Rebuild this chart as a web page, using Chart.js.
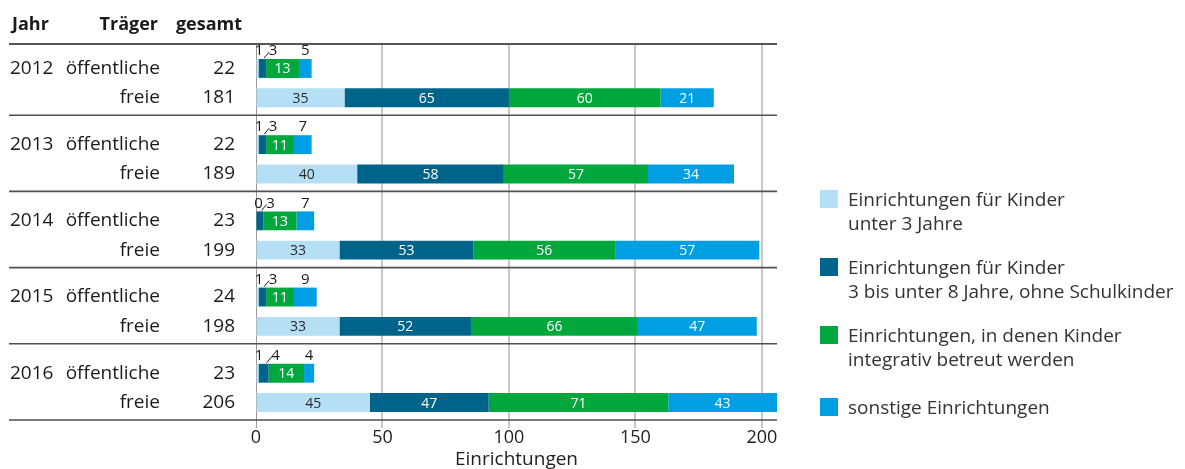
<!DOCTYPE html>
<html><head><meta charset="utf-8">
<script src="https://cdn.jsdelivr.net/npm/chart.js@4.4.1/dist/chart.umd.min.js"></script>
<style>
html,body{margin:0;padding:0;background:#fff;}
#wrap{position:relative;width:1185px;height:469px;overflow:hidden;}
#c{position:absolute;left:0;top:0;}
#legend{position:absolute;left:820px;top:0;font-family:'Open Sans',sans-serif;font-size:19px;color:#333;}
.item{position:absolute;left:0;white-space:nowrap;}
.sw{position:absolute;left:0;top:0;width:18px;height:18px;}
.txt{position:absolute;left:28px;top:-3.5px;line-height:24px;}
</style>
</head><body>
<div id="wrap"><canvas id="c" width="1185" height="469"></canvas><div id="legend"></div></div>
<script>
const years = ['2012','2013','2014','2015','2016'];
const traeger = ['öffentliche','freie'];
const header = ['Jahr','Träger','gesamt'];
const seriesLabels = [
  'Einrichtungen für Kinder\nunter 3 Jahre',
  'Einrichtungen für Kinder\n3 bis unter 8 Jahre, ohne Schulkinder',
  'Einrichtungen, in denen Kinder\nintegrativ betreut werden',
  'sonstige Einrichtungen'
];
const oeffU3 = [1, 1, 0, 1, 1];
const oeffU8 = [3, 3, 3, 3, 4];
const oeffInteg = [13, 11, 13, 11, 14];
const oeffSonst = [5, 7, 7, 9, 4];
const freiU3 = [35, 40, 33, 33, 45];
const freiU8 = [65, 58, 53, 52, 47];
const freiInteg = [60, 57, 56, 66, 71];
const freiSonst = [21, 34, 57, 47, 43];
const oeffTotal = [22, 22, 23, 24, 23];
const freiTotal = [181, 189, 199, 198, 206];
const xTicks = [0, 50, 100, 150, 200];
const axisTitle = 'Einrichtungen';

const colors = ['#b5dff5', '#00648a', '#00a73d', '#009fe3'];
const FONT = "'Open Sans', sans-serif";
const oeffSeries = [oeffU3, oeffU8, oeffInteg, oeffSonst];
const freiSeries = [freiU3, freiU8, freiInteg, freiSonst];

const datasets = [];
oeffSeries.forEach((d, k) => datasets.push({
  label: seriesLabels[k], data: d, backgroundColor: colors[k], stack: 'oeff',
  categoryPercentage: 0.77, barPercentage: 0.644, borderWidth: 0
}));
freiSeries.forEach((d, k) => datasets.push({
  label: seriesLabels[k], data: d, backgroundColor: colors[k], stack: 'frei',
  categoryPercentage: 0.77, barPercentage: 0.644, borderWidth: 0
}));

const tablePlugin = {
  id: 'tablePlugin',
  afterDatasetsDraw(chart) {
    const ctx = chart.ctx, ca = chart.chartArea;
    const els = i => chart.getDatasetMeta(i).data;
    ctx.save();
    ctx.textAlign = 'center';
    ctx.textBaseline = 'middle';
    // labels in freie bars
    ctx.font = '14px ' + FONT;
    freiSeries.forEach((d, k) => {
      els(4 + k).forEach((el, i) => {
        ctx.fillStyle = k === 0 ? '#2a2a2a' : '#ffffff';
        ctx.fillText(String(d[i]), (el.x + el.base) / 2, el.y + 1);
      });
    });
    // green label inside öffentliche bar
    els(2).forEach((el, i) => {
      ctx.fillStyle = '#ffffff';
      ctx.fillText(String(oeffInteg[i]), (el.x + el.base) / 2, el.y + 1);
    });
    // annotations above öffentliche bars
    ctx.font = '15px ' + FONT;
    ctx.fillStyle = '#1a1a1a';
    ctx.strokeStyle = '#1a1a1a';
    ctx.lineWidth = 1;
    years.forEach((y, i) => {
      const l = els(0)[i], dk = els(1)[i], b = els(3)[i];
      const top = dk.y - dk.height / 2;
      const ty = top - 8;
      ctx.fillText(String(oeffU3[i]), l.base + 2.5, ty);
      ctx.fillText(String(oeffU8[i]), dk.x + 7, ty);
      ctx.beginPath();
      ctx.moveTo(dk.x - 2, top - 1);
      ctx.lineTo(dk.x + 3, top - 7);
      ctx.stroke();
      ctx.fillText(String(oeffSonst[i]), (b.x + b.base) / 2, ty);
    });
    // horizontal rules
    ctx.strokeStyle = '#1e1e1e';
    ctx.lineWidth = 1.6;
    ctx.beginPath();
    ctx.moveTo(9, ca.top - 1); ctx.lineTo(ca.right, ca.top - 1); ctx.stroke();
    ctx.strokeStyle = '#505050';
    years.forEach((y, i) => {
      const f = els(4)[i];
      const yy = f.y + f.height / 2 + 8;
      ctx.beginPath(); ctx.moveTo(9, yy); ctx.lineTo(ca.right, yy); ctx.stroke();
    });
    // header
    ctx.fillStyle = '#1a1a1a';
    ctx.font = 'bold 18px ' + FONT;
    ctx.textAlign = 'left'; ctx.fillText(header[0], 12, 25);
    ctx.textAlign = 'right'; ctx.fillText(header[1], 158, 25);
    ctx.fillText(header[2], 242, 25);
    // rows
    ctx.font = '19px ' + FONT;
    years.forEach((y, i) => {
      const o = els(0)[i], f = els(4)[i];
      ctx.textAlign = 'left'; ctx.fillText(y, 10, o.y);
      ctx.textAlign = 'right';
      ctx.fillText(traeger[0], 160, o.y);
      ctx.fillText(String(oeffTotal[i]), 235, o.y);
      ctx.fillText(traeger[1], 160, f.y);
      ctx.fillText(String(freiTotal[i]), 235, f.y);
    });
    ctx.restore();
  }
};

new Chart(document.getElementById('c'), {
  type: 'bar',
  data: { labels: years, datasets },
  options: {
    indexAxis: 'y',
    responsive: false,
    animation: false,
    devicePixelRatio: 1,
    layout: { padding: { left: 256, right: 408, top: 45, bottom: 0 } },
    plugins: { legend: { display: false }, tooltip: { enabled: false } },
    scales: {
      x: {
        type: 'linear', stacked: true, min: 0, max: 206, position: 'bottom',
        afterBuildTicks: s => { s.ticks = xTicks.map(v => ({ value: v })); },
        grid: {
          color: c => (c.tick && c.tick.value === 0) ? '#9a9a9a' : '#c8c8c8',
          tickColor: c => (c.tick && c.tick.value === 0) ? '#9a9a9a' : '#c8c8c8',
          lineWidth: c => (c.tick && c.tick.value === 0) ? 1 : 2,
          drawTicks: true, tickLength: 2
        },
        border: { display: false },
        ticks: { font: { family: FONT, size: 18, lineHeight: 1 }, color: '#222', padding: 1, maxRotation: 0 },
        title: { display: true, text: axisTitle, font: { family: FONT, size: 19, lineHeight: 1 }, color: '#222', padding: { top: 2, bottom: 0 } }
      },
      y: { type: 'category', stacked: true, display: false }
    }
  },
  plugins: [tablePlugin]
});

// HTML legend
const legendTops = [190, 258, 326, 398];
const lg = document.getElementById('legend');
seriesLabels.forEach((t, k) => {
  const it = document.createElement('div');
  it.className = 'item';
  it.style.top = legendTops[k] + 'px';
  const sw = document.createElement('div');
  sw.className = 'sw'; sw.style.background = colors[k];
  const tx = document.createElement('div');
  tx.className = 'txt';
  t.split('\n').forEach(line => { const d = document.createElement('div'); d.textContent = line; tx.appendChild(d); });
  it.appendChild(sw); it.appendChild(tx);
  lg.appendChild(it);
});
</script>
</body></html>
